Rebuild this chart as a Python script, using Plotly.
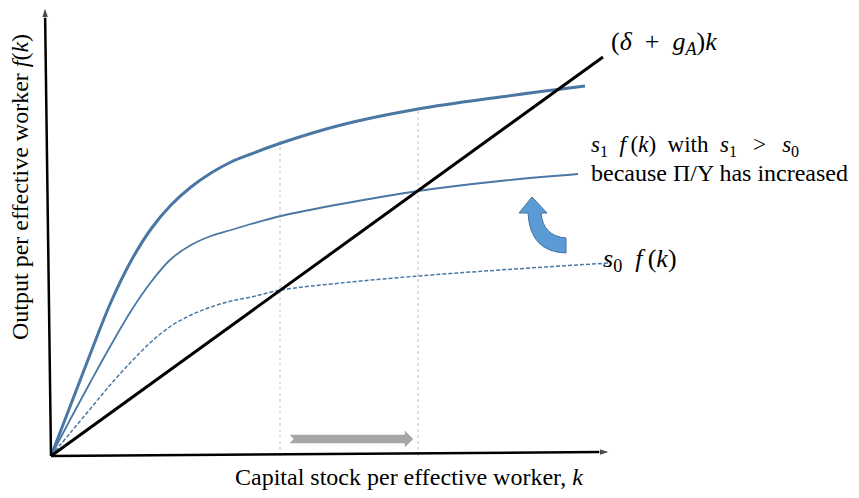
import plotly.graph_objects as go

# Conceptual Solow diagram; units are arbitrary (origin at the axes' corner)
k_grid = [0, 20, 40, 60, 80, 100, 120, 140, 160, 180, 200, 230, 290, 367, 449]

k_top = k_grid + [534]
f_top = [0, 52, 104, 154, 195, 227, 251, 269, 283, 294, 302, 313, 331, 347, 359, 370]

k_s1 = k_grid + [527]
f_s1 = [0, 38, 75, 111, 145, 174, 197, 211, 220, 226, 232, 240, 252, 265, 275, 282]

k_s0 = k_grid + [557]
f_s0 = [0, 24, 48, 72, 94, 114, 130, 141, 149, 155, 159, 166, 173, 180, 186, 193]

k_dep = [0, 552]
f_dep = [0, 399]

k_steady = [229, 367]          # old and new steady states
f_steady_top = [315, 348]      # where the guide lines stop (on f(k))

# axes (tail, head)
yaxis_x = [0, -6]
yaxis_y = [0, 449]
xaxis_x = [0, 559]
xaxis_y = [0, 4]

# decorative arrows
shift_x = [239, 354, 354, 362, 354, 354, 239, 243, 239]
shift_y = [21, 21, 25, 17, 9, 13, 13, 17, 21]
curl_x = [481, 496, 490, 492, 515, 515, 479, 477, 468]
curl_y = [259, 243, 243, 220, 218, 203, 204, 243, 243]

BLUE = "#4a77a3"
SERIF = "Liberation Serif"
EN = "\u2002"
TH = "\u2009"

fig = go.Figure()

# guide lines
for kx, fy in zip(k_steady, f_steady_top):
    fig.add_trace(go.Scatter(x=[kx, kx], y=[0, fy], mode="lines",
                             line=dict(color="#c4c4c4", width=1, dash="3px,3px"),
                             hoverinfo="skip"))

fig.add_trace(go.Scatter(x=k_top, y=f_top, mode="lines", line_shape="spline",
                         line=dict(color=BLUE, width=3, smoothing=1), hoverinfo="skip"))
fig.add_trace(go.Scatter(x=k_s1, y=f_s1, mode="lines", line_shape="spline",
                         line=dict(color=BLUE, width=1.8, smoothing=1), hoverinfo="skip"))
fig.add_trace(go.Scatter(x=k_s0, y=f_s0, mode="lines", line_shape="spline",
                         line=dict(color=BLUE, width=1.5, dash="4px,2px", smoothing=1),
                         hoverinfo="skip"))
fig.add_trace(go.Scatter(x=k_dep, y=f_dep, mode="lines",
                         line=dict(color="black", width=3), hoverinfo="skip"))

# axes with arrowheads
for ax_x, ax_y in ((yaxis_x, yaxis_y), (xaxis_x, xaxis_y)):
    fig.add_trace(go.Scatter(x=ax_x, y=ax_y, mode="lines+markers",
                             line=dict(color="black", width=2.5),
                             marker=dict(symbol="arrow", size=[0, 11], angleref="previous",
                                         color="black"),
                             hoverinfo="skip"))

# gray shift arrow
fig.add_trace(go.Scatter(x=shift_x, y=shift_y, mode="lines", fill="toself",
                         fillcolor="#a6a6a6", line=dict(color="#a6a6a6", width=0.5),
                         hoverinfo="skip"))

# curved blue arrow
path = (f"M {curl_x[0]},{curl_y[0]} L {curl_x[1]},{curl_y[1]} L {curl_x[2]},{curl_y[2]} "
        f"Q {curl_x[3]},{curl_y[3]} {curl_x[4]},{curl_y[4]} L {curl_x[5]},{curl_y[5]} "
        f"Q {curl_x[6]},{curl_y[6]} {curl_x[7]},{curl_y[7]} L {curl_x[8]},{curl_y[8]} Z")
fig.add_shape(type="path", path=path, xref="x", yref="y",
              fillcolor="#5b9bd5", line=dict(color="#41719c", width=1))

# labels
def label(x, y, text, size=24, anchor="left", angle=0):
    fig.add_annotation(x=x, y=y, xref="x", yref="y", xanchor=anchor, yanchor="middle",
                       showarrow=False, text=text, textangle=angle,
                       font=dict(family=SERIF, size=size, color="black"))

label(558, 413, f"(<i>δ</i>{EN}+{EN}<i>g<sub>A</sub></i>)<i>k</i>", size=26)
label(538, 310,
      f"<i>s</i><sub>1</sub>{EN}<i>f</i>{TH}(<i>k</i>){EN}with{EN}<i>s</i><sub>1</sub>"
      f"{EN}{TH}&gt;{EN}{TH}<i>s</i><sub>0</sub>", size=23)
label(538, 283, "because Π/Y has increased", size=24)
label(550, 196, f"<i>s</i><sub>0</sub>{EN}<i>f</i>{TH}(<i>k</i>)", size=26)
label(358, -21, "Capital stock per effective worker, <i>k</i>", size=24, anchor="center")
label(-31, 269, "Output per effective worker <i>f</i>(<i>k</i>)", size=24, anchor="center", angle=-90)

# the page body adds an 8px margin, so the figure is sized to fit the window
fig.update_layout(
    width=843, height=482, margin=dict(l=0, r=0, t=0, b=0),
    paper_bgcolor="white", plot_bgcolor="white", showlegend=False,
    xaxis=dict(range=[-43, 800], visible=False, fixedrange=True),
    yaxis=dict(range=[-34, 448], visible=False, fixedrange=True),
)

fig.write_html("out.html")
